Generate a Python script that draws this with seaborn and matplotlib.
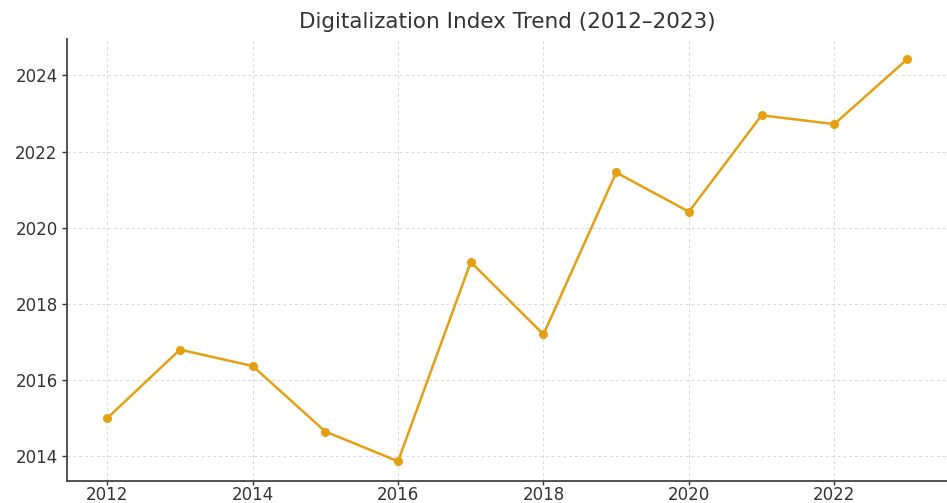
import pandas as pd
import numpy as np
import seaborn as sns
import matplotlib.pyplot as plt

years = [2012, 2013, 2014, 2015, 2016, 2017, 2018, 2019, 2020, 2021, 2022, 2023]
index_values = [2015.0, 2016.8, 2016.37, 2014.65, 2013.87, 2019.1, 2017.2,
                2021.45, 2020.42, 2022.95, 2022.72, 2024.42]

df = pd.DataFrame({'year': years, 'index': index_values})

sns.set_style('white')
plt.rcParams['font.family'] = ['DejaVu Sans']

fig = plt.figure(figsize=(9.47, 5.03), dpi=100)
ax = fig.add_axes([0.071, 0.043, 0.929, 0.879])

sns.lineplot(data=df, x='year', y='index', ax=ax, color='#E5A012',
             marker='o', markersize=6.5, markeredgewidth=0, linewidth=1.8)

ax.grid(True, linestyle=(0, (3, 3)), color='#d8d8d8', linewidth=0.7)
ax.set_xticks([2012, 2014, 2016, 2018, 2020, 2022])
ax.set_yticks([2014, 2016, 2018, 2020, 2022, 2024])
ax.tick_params(axis='both', labelsize=12, colors='#333333', length=3.5,
               width=1, direction='out', bottom=True, left=True)
ax.tick_params(axis='x', length=3, pad=0)
for s in ['top', 'right']:
    ax.spines[s].set_visible(False)
for s in ['left', 'bottom']:
    ax.spines[s].set_color('#444444')
    ax.spines[s].set_linewidth(1.3)
ax.set_xlabel('')
ax.set_ylabel('')
ax.set_title('Digitalization Index Trend (2012–2023)', fontsize=15.5, color='#333333', pad=8)

plt.savefig('out.png', dpi=100)
plt.close()
